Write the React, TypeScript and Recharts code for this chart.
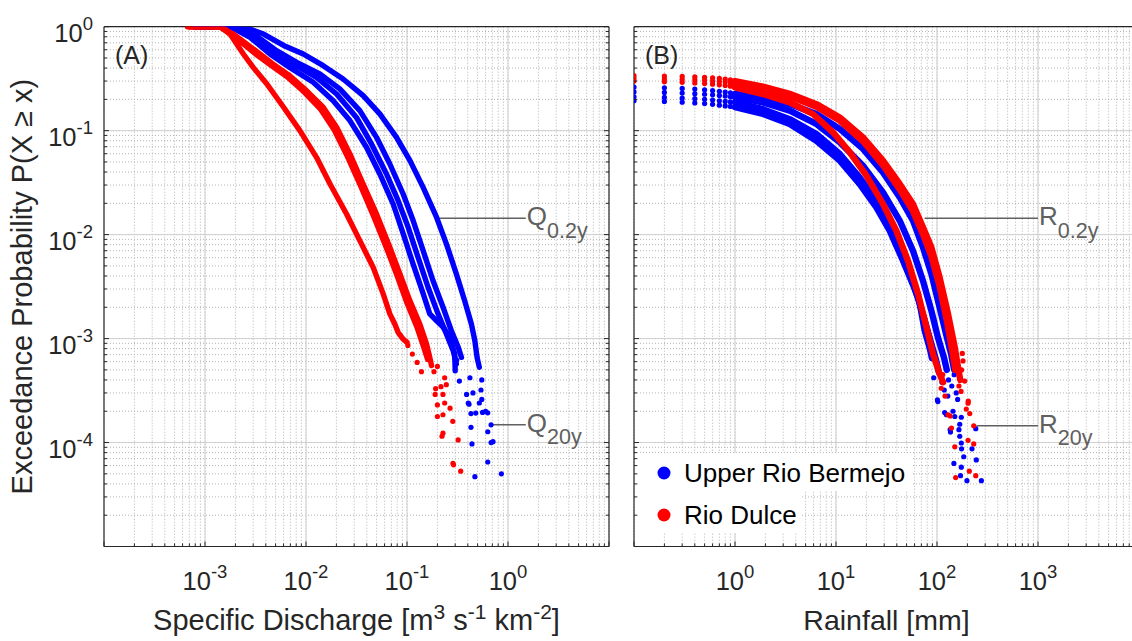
import React from 'react';
import { ScatterChart, Scatter, XAxis, YAxis, CartesianGrid, ReferenceLine } from 'recharts';

const FONT = '"Liberation Sans", Arial, Helvetica, sans-serif';
const BLUE = '#0000ff';
const RED = '#ff0000';
const INK = '#262626';
const ANNO = '#606060';

// ---------- axes / tick labels ----------
const aXDecades = [-4, -3, -2, -1, 0, 1];
const bXDecades = [-1, 0, 1, 2, 3, 4];
const yDecades = [-5, -4, -3, -2, -1, 0];
const aXLabelExps = [-3, -2, -1, 0];
const bXLabelExps = [0, 1, 2, 3];
const aYLabelExps = [0, -1, -2, -3, -4];
const bYLabelExps: number[] = [];
const minorMultipliers = [1, 2, 3, 4, 5, 6, 7, 8, 9];

// ---------- Panel A : specific discharge [x, P(X>=x)] ----------
const qBlueOuter = [[0.00078,1],[0.0018,1],[0.0026,0.97],[0.0038,0.85],[0.006,0.66],[0.0094,0.546],[0.0148,0.422],[0.0233,0.314],[0.0368,0.217],[0.0538,0.145],[0.0787,0.0863],[0.107,0.0515],[0.1445,0.0285],[0.196,0.0147],[0.246,0.0081],[0.308,0.0042],[0.373,0.0023],[0.434,0.00138],[0.469,0.00096],[0.494,0.00066],[0.52,0.00053]];
const qBlueMidA = [[0.0008,1],[0.0016,1],[0.0021,0.97],[0.0032,0.82],[0.0051,0.588],[0.0081,0.454],[0.0137,0.351],[0.0216,0.252],[0.0341,0.156],[0.0499,0.0863],[0.0676,0.0478],[0.0916,0.0246],[0.115,0.01365],[0.1445,0.007],[0.181,0.0036],[0.2275,0.002],[0.275,0.00119],[0.321,0.00083],[0.346,0.00066]];
const qBlueMidB = [[0.0008,1],[0.0016,1],[0.0021,0.96],[0.003,0.79],[0.0047,0.566],[0.0075,0.438],[0.0127,0.326],[0.0201,0.225],[0.0316,0.134],[0.0445,0.0745],[0.0627,0.0383],[0.0817,0.0212],[0.1026,0.0118],[0.129,0.006],[0.162,0.0031],[0.203,0.00173],[0.2455,0.00111],[0.286,0.00077],[0.308,0.00057]];
const qBlueInner = [[0.0009,1],[0.0015,1],[0.0019,0.97],[0.0028,0.79],[0.0044,0.546],[0.0069,0.406],[0.0118,0.292],[0.0186,0.194],[0.0272,0.125],[0.0397,0.0692],[0.0538,0.0383],[0.0729,0.0197],[0.0916,0.0102],[0.115,0.0052],[0.1445,0.0027],[0.168,0.00173],[0.1955,0.00149],[0.2275,0.00129],[0.265,0.00103],[0.297,0.00071],[0.3,0.00049]];
const qRedLeft = [[0.00067,1],[0.0012,1],[0.00152,0.98],[0.00177,0.85],[0.00206,0.68],[0.0024,0.546],[0.003,0.406],[0.0041,0.281],[0.006,0.168],[0.0087,0.1],[0.0127,0.0554],[0.0173,0.0307],[0.0252,0.0158],[0.0341,0.00875],[0.0462,0.00485],[0.0581,0.00269],[0.0676,0.00173],[0.0757,0.00138],[0.0816,0.00115],[0.0916,0.00099],[0.1,0.00092]];
const qRedMidA = [[0.0007,1],[0.0014,1],[0.0019,0.85],[0.0026,0.68],[0.0035,0.546],[0.0047,0.438],[0.0069,0.338],[0.0101,0.243],[0.0148,0.168],[0.0201,0.108],[0.0272,0.0597],[0.0368,0.0307],[0.0499,0.0158],[0.0676,0.00755],[0.0849,0.0042],[0.1067,0.00232],[0.134,0.00138],[0.156,0.00089],[0.168,0.00066],[0.175,0.00055]];
const qRedMidB = [[0.0007,1],[0.0014,1],[0.0018,0.84],[0.0025,0.66],[0.0033,0.53],[0.0045,0.425],[0.0065,0.33],[0.0096,0.235],[0.014,0.16],[0.019,0.102],[0.0258,0.056],[0.035,0.029],[0.047,0.0148],[0.0635,0.0072],[0.08,0.004],[0.1,0.0022],[0.125,0.0013],[0.145,0.00085],[0.16,0.00063]];
const qRedTail = [[0.102,0.00086],[0.113,0.00071],[0.126,0.00059],[0.139,0.00048],[0.185,0.00048],[0.2,0.00054],[0.236,0.00042],[0.192,0.00033],[0.217,0.000345],[0.245,0.00036],[0.19,0.00029],[0.227,0.00029],[0.2,0.00023],[0.236,0.00024],[0.267,0.000214],[0.2,0.000178],[0.227,0.000185],[0.284,0.00016],[0.227,0.000123],[0.222,0.000115],[0.321,0.000106],[0.289,0.000061],[0.285,0.000063],[0.34,0.000053]];
const qBlueTail = [[0.31,0.00062],[0.33,0.00039],[0.42,0.00042],[0.55,0.0004],[0.54,0.00032],[0.389,0.00029],[0.45,0.0003],[0.404,0.00024],[0.55,0.00026],[0.6,0.0002],[0.411,0.000234],[0.52,0.00024],[0.43,0.00019],[0.48,0.000192],[0.56,0.000195],[0.63,0.000193],[0.43,0.00014],[0.68,0.000148],[0.63,0.000127],[0.44,0.000097],[0.68,0.0001],[0.71,0.000102],[0.63,0.000065],[0.47,0.000047],[0.86,0.00005]];

// ---------- Panel B : rainfall [mm, P(X>=x)] ----------
const rRedOuterDots = [[0.1,0.338],[0.2,0.335],[0.3,0.333],[0.4,0.33],[0.5,0.326],[0.6,0.322],[0.7,0.318],[0.8,0.313],[0.9,0.308]];
const rRedOuterLine = [[1,0.3],[1.89,0.265],[3.48,0.226],[6.39,0.18],[10.9,0.134],[18.5,0.0863],[29.2,0.0515],[42.7,0.0307],[57.8,0.0197],[72.6,0.0118],[87.9,0.00755],[106,0.0039],[128.5,0.00173],[149.6,0.00083],[161.5,0.00053],[170,0.0004]];
const rRedMidDots = [[0.1,0.318],[0.2,0.315],[0.3,0.312],[0.4,0.309],[0.5,0.305],[0.6,0.301],[0.7,0.297],[0.8,0.293],[0.9,0.289]];
const rRedMidLine = [[1,0.285],[1.89,0.252],[3.48,0.214],[6.39,0.17],[10.9,0.125],[18.5,0.079],[29.2,0.0465],[42.7,0.0272],[57.8,0.0168],[72.6,0.0101],[87.9,0.0062],[106,0.0032],[125,0.0015],[142,0.00075],[152,0.0005]];
const rRedInnerDots = [[0.1,0.3],[0.2,0.296],[0.3,0.292],[0.4,0.288],[0.5,0.284],[0.6,0.28],[0.7,0.276],[0.8,0.272],[0.9,0.268]];
const rRedInnerLine = [[1,0.261],[1.89,0.225],[3.48,0.187],[5.92,0.1446],[9.34,0.0964],[13.7,0.0619],[20,0.0369],[29.2,0.0197],[39.6,0.0109],[51.6,0.0056],[64.9,0.0027],[78.4,0.0013],[91.3,0.00071],[106,0.00046],[115,0.00038]];
const rBlue1Dots = [[0.1,0.262],[0.2,0.258],[0.3,0.255],[0.4,0.251],[0.5,0.247],[0.6,0.243],[0.7,0.239],[0.8,0.235],[0.9,0.231]];
const rBlue1Line = [[1,0.225],[1.89,0.209],[3.48,0.18],[6.39,0.1446],[10.9,0.104],[18.5,0.0667],[29.2,0.0397],[42.7,0.0229],[57.8,0.01365],[72.6,0.00755],[87.9,0.0042],[106,0.002],[123,0.0011],[138,0.00071],[148,0.0005]];
const rBlue2Dots = [[0.1,0.236],[0.2,0.233],[0.3,0.23],[0.4,0.227],[0.5,0.224],[0.6,0.221],[0.7,0.218],[0.8,0.215],[0.9,0.212]];
const rBlue2Line = [[1,0.209],[1.89,0.187],[3.48,0.156],[6.39,0.116],[10.9,0.0772],[18.5,0.046],[29.2,0.0255],[42.7,0.01365],[57.8,0.007],[72.6,0.0036],[87.9,0.00186],[102,0.00103],[117,0.00066],[125,0.0005]];
const rBlue3Dots = [[0.1,0.212],[0.2,0.209],[0.3,0.206],[0.4,0.203],[0.5,0.2],[0.6,0.197],[0.7,0.194],[0.8,0.191],[0.9,0.189]];
const rBlue3Line = [[1,0.187],[1.89,0.161],[3.48,0.129],[6.39,0.0929],[10.9,0.0597],[17.1,0.0356],[25.1,0.0212],[35.3,0.0118],[47.8,0.006],[60.1,0.0031],[75.5,0.0015],[87.9,0.00089],[98.4,0.00061],[104,0.00048]];
const rBlue4Dots = [[0.1,0.194],[0.2,0.191],[0.3,0.188],[0.4,0.185],[0.5,0.182],[0.6,0.179],[0.7,0.176],[0.8,0.173],[0.9,0.171]];
const rBlue4Line = [[1,0.168],[1.89,0.1446],[3.48,0.116],[6.39,0.08],[10.9,0.0515],[17.1,0.0307],[25.1,0.0183],[34,0.0109],[46.1,0.0056],[57.8,0.0033],[66.7,0.0023],[75.5,0.0012],[85.5,0.00078],[89,0.00065]];
const rBlueTail = [[92.8,0.00042],[101,0.000257],[119,0.000194],[135,0.000133],[102,0.000248],[124,0.000185],[144,0.0002],[150,0.000178],[174,0.000175],[168,0.00015],[165,0.000133],[242,0.000136],[136,0.000126],[168,0.000115],[174,0.000099],[175,0.000087],[222,0.000087],[184,0.000073],[245,0.000068],[147,0.000063],[174,0.000058],[171,0.000048],[198,0.000043],[275,0.000043],[110,0.00045],[130,0.0004],[140,0.00035],[155,0.0003],[118,0.00032],[128,0.00028],[160,0.00026],[148,0.00045],[112,0.00038]];
const rRedTail = [[110,0.000333],[114,0.00045],[181,0.00061],[188,0.00039],[173,0.00031],[135,0.00018],[204,0.00025],[128.6,0.000185],[203,0.000239],[195,0.00021],[211,0.00019],[231,0.000145],[139,0.000138],[203,0.000105],[231,0.000097],[150,0.000091],[209,0.000053],[153,0.000046],[242,0.000048],[175,0.0005],[165,0.00035],[120,0.00028],[178,0.00072]];

// ---------- return-period annotations ----------
const aAnnotations = [
  { from: [0.197, 0.0144], to: [1.5, 0.0144], main: 'Q', sub: '0.2y' },
  { from: [0.695, 0.000148], to: [1.5, 0.000148], main: 'Q', sub: '20y' },
];
const bAnnotations = [
  { from: [75.4, 0.0144], to: [1000, 0.0144], main: 'R', sub: '0.2y' },
  { from: [247, 0.000145], to: [1000, 0.000145], main: 'R', sub: '20y' },
];

// ---------- helpers ----------
const toPts = (arr: number[][]) => arr.map(([x, y]) => ({ x, y }));
function logTicks(decades: number[]) {
  const out: number[] = [];
  decades.forEach((d, i) => {
    if (i === decades.length - 1) out.push(parseFloat(Math.pow(10, d).toPrecision(8)));
    else minorMultipliers.forEach((m) => out.push(parseFloat((m * Math.pow(10, d)).toPrecision(8))));
  });
  return out;
}
const innerMajors = (decades: number[]) => decades.slice(1, -1).map((d) => parseFloat(Math.pow(10, d).toPrecision(8)));
const isDecade = (v: number) => Math.abs(Math.log10(v) - Math.round(Math.log10(v))) < 1e-6;
const expOf = (v: number) => Math.round(Math.log10(v));

function BottomTick(props: any) {
  const { x, y, payload, labels } = props;
  const v = payload.value;
  const major = isDecade(v);
  const e = expOf(v);
  return (
    <g>
      <line x1={x} x2={x} y1={y} y2={y - (major ? 5 : 3)} stroke={INK} strokeWidth={1} />
      {major && labels.includes(e) ? (
        <text x={x} y={y + 43.5} textAnchor="middle" fontFamily={FONT} fontSize={25.5} fill={INK}>
          10<tspan dy={-12} fontSize={18.5}>{String(e)}</tspan>
        </text>
      ) : null}
    </g>
  );
}
function TopTick(props: any) {
  const { x, y, payload } = props;
  const major = isDecade(payload.value);
  return <line x1={x} x2={x} y1={y} y2={y + (major ? 5 : 3)} stroke={INK} strokeWidth={1} />;
}
function LeftTick(props: any) {
  const { x, y, payload, labels } = props;
  const v = payload.value;
  const major = isDecade(v);
  const e = expOf(v);
  return (
    <g>
      <line x1={x} x2={x + (major ? 5 : 3)} y1={y} y2={y} stroke={INK} strokeWidth={1} />
      {major && labels.includes(e) ? (
        <text x={x - 11} y={y + 15} textAnchor="end" fontFamily={FONT} fontSize={25.5} fill={INK}>
          10<tspan dy={-12} fontSize={18.5}>{String(e)}</tspan>
        </text>
      ) : null}
    </g>
  );
}
function RightTick(props: any) {
  const { x, y, payload } = props;
  const major = isDecade(payload.value);
  return <line x1={x} x2={x - (major ? 5 : 3)} y1={y} y2={y} stroke={INK} strokeWidth={1} />;
}
function AnnoLabel(props: any) {
  const { viewBox, main, sub } = props;
  if (!viewBox) return null;
  const x = viewBox.x + (viewBox.width || 0) + 1;
  const y = viewBox.y + 7;
  return (
    <text x={x} y={y} fontFamily={FONT} fontSize={26} fill={ANNO}>
      {main}
      <tspan dy={12.5} fontSize={21.5}>{sub}</tspan>
    </text>
  );
}
const Empty = () => <g />;

type Series = { data: number[][]; color: string; kind: 'line' | 'dots' };

function Panel(props: {
  left: number; width: number; margin: any; xDecades: number[]; xLabels: number[]; yLabels: number[];
  series: Series[]; annotations: any[]; lineWidth: number;
}) {
  const { left, width, margin, xDecades, xLabels, yLabels, series, annotations, lineWidth } = props;
  const xTicks = logTicks(xDecades);
  const yTicks = logTicks(yDecades);
  const xDomain = [Math.pow(10, xDecades[0]), Math.pow(10, xDecades[xDecades.length - 1])];
  const yDomain = [Math.pow(10, yDecades[0]), Math.pow(10, yDecades[yDecades.length - 1])];
  const axisCommon: any = {
    type: 'number', scale: 'log', allowDataOverflow: true, tickSize: 0, tickMargin: 0, tickLine: false,
    interval: 0, axisLine: { stroke: INK, strokeWidth: 1.2 },
  };
  return (
    <div style={{ position: 'absolute', left, top: 0, width, height: 641 }}>
      <ScatterChart width={width} height={641} margin={margin}>
        <CartesianGrid stroke="#b3b3b3" strokeDasharray="1 2" />
        <CartesianGrid stroke="#d0d0d0" horizontalValues={innerMajors(yDecades)} verticalValues={innerMajors(xDecades)} />
        <XAxis {...axisCommon} dataKey="x" domain={xDomain} ticks={xTicks} height={60}
          tick={(p: any) => <BottomTick {...p} labels={xLabels} />} />
        <XAxis {...axisCommon} xAxisId="top" orientation="top" domain={xDomain} ticks={xTicks} height={1}
          tick={(p: any) => <TopTick {...p} />} />
        <YAxis {...axisCommon} dataKey="y" domain={yDomain} ticks={yTicks} width={60}
          tick={(p: any) => <LeftTick {...p} labels={yLabels} />} />
        <YAxis {...axisCommon} yAxisId="right" orientation="right" domain={yDomain} ticks={yTicks} width={1}
          tick={(p: any) => <RightTick {...p} />} />
        {series.map((s, i) =>
          s.kind === 'line' ? (
            <Scatter key={i} data={toPts(s.data)} fill={s.color} isAnimationActive={false} lineType="joint"
              line={{ stroke: s.color, strokeWidth: lineWidth, strokeLinecap: 'round', strokeLinejoin: 'round' }}
              shape={Empty} />
          ) : (
            <Scatter key={i} data={toPts(s.data)} fill={s.color} isAnimationActive={false}
              shape={(p: any) => <circle cx={p.cx} cy={p.cy} r={2.6} fill={s.color} />} />
          )
        )}
        {annotations.map((a, i) => (
          <ReferenceLine key={'a' + i}
            segment={[{ x: a.from[0], y: a.from[1] }, { x: a.to[0], y: a.to[1] }]}
            stroke={ANNO} strokeWidth={1.5}
            label={(lp: any) => <AnnoLabel {...lp} main={a.main} sub={a.sub} />} />
        ))}
      </ScatterChart>
    </div>
  );
}

const seriesA: Series[] = [
  { data: qBlueOuter, color: BLUE, kind: 'line' },
  { data: qBlueMidA, color: BLUE, kind: 'line' },
  { data: qBlueMidB, color: BLUE, kind: 'line' },
  { data: qBlueInner, color: BLUE, kind: 'line' },
  { data: qBlueTail, color: BLUE, kind: 'dots' },
  { data: qRedLeft, color: RED, kind: 'line' },
  { data: qRedMidA, color: RED, kind: 'line' },
  { data: qRedMidB, color: RED, kind: 'line' },
  { data: qRedTail, color: RED, kind: 'dots' },
];
const seriesB: Series[] = [
  { data: rBlue1Dots, color: BLUE, kind: 'dots' },
  { data: rBlue2Dots, color: BLUE, kind: 'dots' },
  { data: rBlue3Dots, color: BLUE, kind: 'dots' },
  { data: rBlue4Dots, color: BLUE, kind: 'dots' },
  { data: rBlue1Line, color: BLUE, kind: 'line' },
  { data: rBlue2Line, color: BLUE, kind: 'line' },
  { data: rBlue3Line, color: BLUE, kind: 'line' },
  { data: rBlue4Line, color: BLUE, kind: 'line' },
  { data: rBlueTail, color: BLUE, kind: 'dots' },
  { data: rRedOuterDots, color: RED, kind: 'dots' },
  { data: rRedMidDots, color: RED, kind: 'dots' },
  { data: rRedInnerDots, color: RED, kind: 'dots' },
  { data: rRedOuterLine, color: RED, kind: 'line' },
  { data: rRedMidLine, color: RED, kind: 'line' },
  { data: rRedInnerLine, color: RED, kind: 'line' },
  { data: rRedTail, color: RED, kind: 'dots' },
];

export default function App() {
  const txt: any = { fontFamily: FONT, fill: INK };
  return (
    <div style={{ position: 'absolute', left: 0, top: 0, width: 1132, height: 641, overflow: 'hidden', background: '#fff' }}>
      <Panel left={0} width={640} margin={{ top: 25.7, right: 30, bottom: 34.5, left: 44 }} lineWidth={5.4}
        xDecades={aXDecades} xLabels={aXLabelExps} yLabels={aYLabelExps} series={seriesA} annotations={aAnnotations} />
      <Panel left={574} width={600} margin={{ top: 25.7, right: 34, bottom: 34.5, left: 0 }} lineWidth={6.4}
        xDecades={bXDecades} xLabels={bXLabelExps} yLabels={bYLabelExps} series={seriesB} annotations={bAnnotations} />
      <svg width={1132} height={641} style={{ position: 'absolute', left: 0, top: 0, pointerEvents: 'none' }}>
        <text {...txt} fontSize={29} textAnchor="middle" transform="translate(32, 286.6) rotate(-90)">
          Exceedance Probability P(X ≥ x)
        </text>
        <text {...txt} fontSize={29} textAnchor="middle" x={356.5} y={630}>
          Specific Discharge [m<tspan dy={-11} fontSize={21}>3</tspan><tspan dy={11}> s</tspan><tspan dy={-11} fontSize={21}>-1</tspan><tspan dy={11}> km</tspan><tspan dy={-11} fontSize={21}>-2</tspan><tspan dy={11}>]</tspan>
        </text>
        <text {...txt} fontSize={28.5} textAnchor="middle" x={886.5} y={630}>Rainfall [mm]</text>
        <text {...txt} fontSize={25} x={115} y={64}>(A)</text>
        <text {...txt} fontSize={25} x={645} y={64}>(B)</text>
        <rect x={640} y={453} width={272} height={38} fill="#fff" />
        <rect x={640} y={491} width={160} height={42} fill="#fff" />
        <circle cx={664} cy={473} r={6.5} fill={BLUE} />
        <circle cx={664} cy={515} r={6.5} fill={RED} />
        <text {...txt} fill="#000" fontSize={26} x={684} y={482}>Upper Rio Bermejo</text>
        <text {...txt} fill="#000" fontSize={26} x={684} y={524}>Rio Dulce</text>
      </svg>
    </div>
  );
}
